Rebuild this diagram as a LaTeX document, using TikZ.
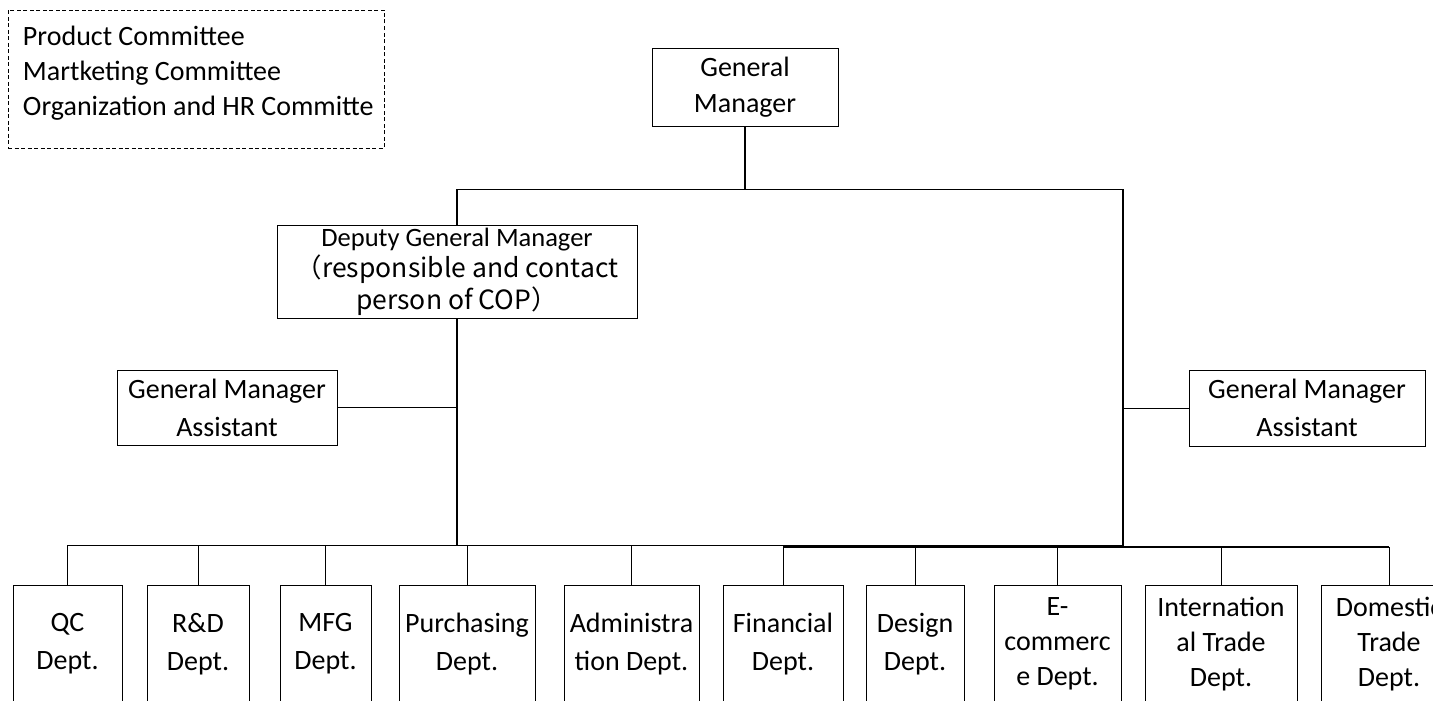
\documentclass[tikz,border=0pt]{standalone}
\usepackage{fontspec}
\setmainfont{Carlito}
\newfontfamily\cjkfont{Noto Sans CJK SC}
\begin{document}
\begin{tikzpicture}[x=1pt,y=-1pt,
  every node/.style={inner sep=0pt, outer sep=0pt},
  box/.style={draw, line width=1pt, align=center, anchor=north west},
  deptbox/.style={box, minimum height=118pt, font=\fontsize{28}{38}\selectfont},
  deptthree/.style={box, minimum height=118pt, font=\fontsize{28}{35}\selectfont},
  conn/.style={line width=1pt},
  mainconn/.style={line width=1.3pt},
]
\useasboundingbox (0,0) rectangle (1433,701);
\clip (0,0) rectangle (1433,701);

% committee box
\node[draw, dash pattern=on 4pt off 2.5pt, line width=0.9pt, anchor=north west, minimum width=376pt, minimum height=138pt] (com) at (8,10) {};
\node[anchor=north west, align=left, font=\fontsize{28}{35}\selectfont] (comtext) at (23,26)
  {Product Committee\\Martketing Committee\\Organization and HR Committe};

% general manager
\node[box, minimum width=186pt, minimum height=77pt, font=\fontsize{28}{36}\selectfont] (gm) at (652,49) {General\\Manager};

% deputy general manager
\node[box, minimum width=360pt, minimum height=93pt, font=\fontsize{26.5}{31.5}\selectfont] (dgm) at (277,225)
  {Deputy General Manager\\{\cjkfont\fontsize{26.5}{31.5}\selectfont （responsible and contact}\\{\cjkfont\fontsize{26.5}{31.5}\selectfont person of COP）}};

% assistants
\node[box, minimum width=220pt, minimum height=75pt, font=\fontsize{28}{38}\selectfont] (gmal) at (117,370) {General Manager\\Assistant};
\node[box, minimum width=236pt, minimum height=76pt, font=\fontsize{28}{38}\selectfont] (gmar) at (1189,370) {General Manager\\Assistant};

% departments
\node[deptbox, minimum width=109pt] (qc) at (13,585) {QC\\Dept.};
\node[deptbox, minimum width=102pt] (rd) at (147,585) {R\&D\\Dept.};
\node[deptbox, minimum width=91pt] (mfg) at (280,585) {MFG\\Dept.};
\node[deptbox, minimum width=136pt] (pur) at (399,585) {Purchasing\\Dept.};
\node[deptbox, minimum width=135pt] (adm) at (564,585) {Administra\\tion Dept.};
\node[deptbox, minimum width=120pt] (fin) at (723,585) {Financial\\Dept.};
\node[deptbox, minimum width=98pt] (des) at (866,585) {Design\\Dept.};
\node[deptthree, minimum width=127pt] (ecom) at (994,585) {E-\\commerc\\e Dept.};
\node[deptthree, minimum width=152pt] (intl) at (1145,585) {Internation\\al Trade\\Dept.};
\node[deptthree, minimum width=136pt] (dom) at (1321,585) {Domestic\\Trade\\Dept.};

% junction coordinates
\coordinate (tl) at (457,189);
\coordinate (tr) at (1123,189);
\coordinate (ljoin) at (457,407.5);
\coordinate (rjoin) at (1123,408);
\coordinate (lbus) at (457,545);
\coordinate (rbus) at (1123,547);
\coordinate (busa) at (68,545);
\coordinate (busb) at (1123,545);
\coordinate (busc) at (783,547);
\coordinate (busd) at (1389,547);

% connectors
\draw[mainconn] (gm.south) -- (gm.south |- tl);
\draw[conn] (tl) -- (tr);
\draw[mainconn] (tl) -- (dgm.north);
\draw[mainconn] (dgm.south) -- (lbus);
\draw[conn] (gmal.east) -- (ljoin);
\draw[mainconn] (tr) -- (rbus);
\draw[conn] (gmar.west) -- (rjoin);
\draw[conn] (busa) -- (busb);
\draw[mainconn] (busc) -- (busd);
\foreach \d in {qc,rd,mfg,pur,adm}
  \draw[conn] (\d.north) -- (\d.north |- busa);
\foreach \d in {fin,des,ecom,intl,dom}
  \draw[conn] (\d.north) -- (\d.north |- busc);
\end{tikzpicture}
\end{document}
